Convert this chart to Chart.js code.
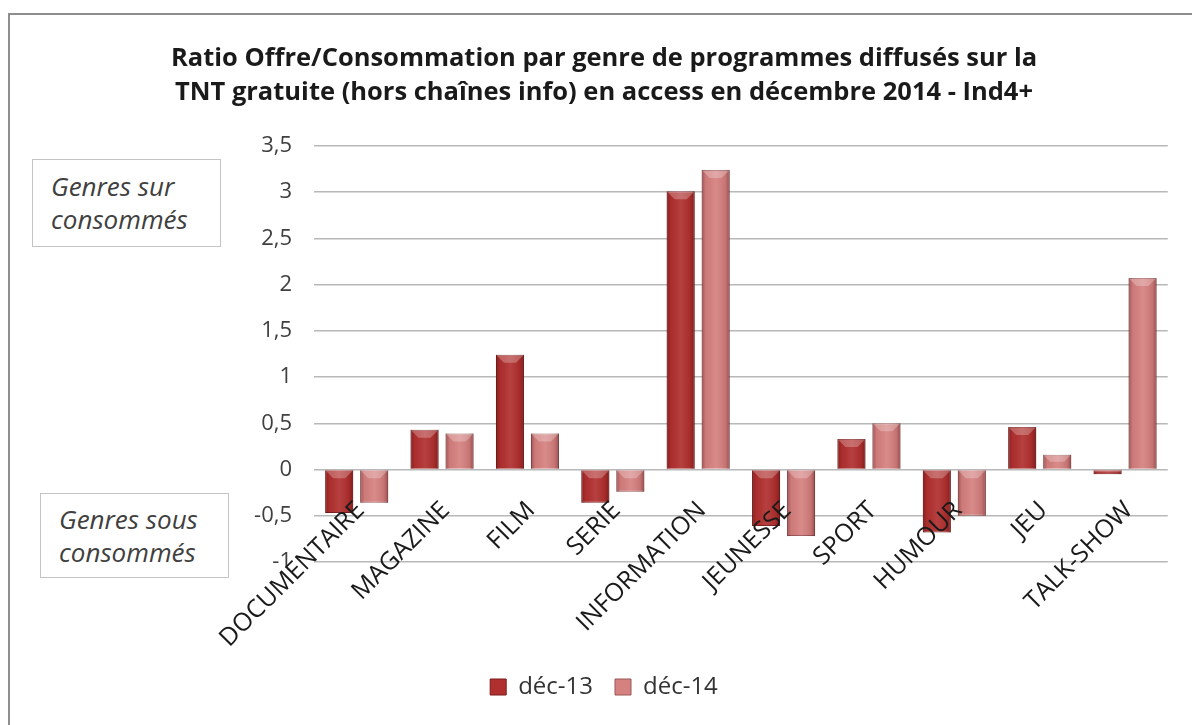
<!DOCTYPE html>
<html lang="fr">
<head>
<meta charset="utf-8">
<title>Ratio Offre/Consommation</title>
<script src="https://cdn.jsdelivr.net/npm/chart.js@4.4.1/dist/chart.umd.min.js"></script>
<style>
  html, body { margin: 0; padding: 0; background: #fff; }
  #wrap { position: relative; width: 1192px; height: 725px; overflow: hidden; }
  #cadre { position: absolute; left: 8px; top: 13px; width: 1220px; height: 740px; border: 2px solid #8e8e8e; box-sizing: border-box; }
  #graph { position: absolute; left: 0; top: 0; }
  .note { position: absolute; border: 1.5px solid #c4c4c4; box-sizing: border-box; background: #fff;
          font-family: "Open Sans", sans-serif; font-style: italic; font-size: 26px; color: #404040;
          line-height: 33px; text-align: left; padding-left: 18px; }
</style>
</head>
<body>
<div id="wrap">
  <div id="cadre"></div>
  <canvas id="graph" width="1192" height="725"></canvas>
  <div class="note" style="left:32px; top:159px; width:189px; height:88px; padding-top:10px;">Genres sur<br>consommés</div>
  <div class="note" style="left:40px; top:493px; width:189px; height:85px; padding-top:9px;">Genres sous<br>consommés</div>
</div>
<script>
// genres et valeurs
const genres = ['DOCUMENTAIRE', 'MAGAZINE', 'FILM', 'SERIE', 'INFORMATION', 'JEUNESSE', 'SPORT', 'HUMOUR', 'JEU', 'TALK-SHOW'];
const dec13 = [-0.47, 0.43, 1.24, -0.36, 3.01, -0.61, 0.33, -0.68, 0.46, -0.05];
const dec14 = [-0.36, 0.39, 0.39, -0.24, 3.24, -0.72, 0.50, -0.50, 0.16, 2.07];
const seriesNames = ['déc-13', 'déc-14'];

const titre = ['Ratio Offre/Consommation par genre de programmes diffusés sur la',
               'TNT gratuite (hors chaînes info) en access en décembre 2014 - Ind4+'];

// petit effet de relief sur les barres
const relief = {
    id: 'relief',
    afterDatasetsDraw(chart) {
        const ctx = chart.ctx;
        chart.data.datasets.forEach((ds, i) => {
            chart.getDatasetMeta(i).data.forEach(bar => {
                const left = bar.x - bar.width / 2;
                const top = Math.min(bar.y, bar.base);
                const h = Math.abs(bar.base - bar.y);
                const g = ctx.createLinearGradient(left, 0, left + bar.width, 0);
                g.addColorStop(0, 'rgba(60,0,0,0.35)');
                g.addColorStop(0.15, 'rgba(60,0,0,0.05)');
                g.addColorStop(0.5, 'rgba(255,255,255,0.08)');
                g.addColorStop(0.85, 'rgba(60,0,0,0.1)');
                g.addColorStop(1, 'rgba(60,0,0,0.4)');
                ctx.save();
                ctx.fillStyle = g;
                ctx.fillRect(left, top, bar.width, h);
                // biseau du haut
                const b = Math.min(8, h / 2);
                ctx.fillStyle = 'rgba(255,255,255,0.25)';
                ctx.beginPath();
                ctx.moveTo(left, top);
                ctx.lineTo(left + bar.width, top);
                ctx.lineTo(left + bar.width - b, top + b);
                ctx.lineTo(left + b, top + b);
                ctx.closePath();
                ctx.fill();
                ctx.restore();
            });
        });
    }
};

new Chart(document.getElementById('graph'), {
    type: 'bar',
    data: {
        labels: genres,
        datasets: [
            {
                label: seriesNames[0],
                data: dec13,
                backgroundColor: '#b0302f',
                borderColor: '#7a1a1a',
                borderWidth: 1,
                categoryPercentage: 0.82,
                barPercentage: 0.8
            },
            {
                label: seriesNames[1],
                data: dec14,
                backgroundColor: '#d58180',
                borderColor: '#9c5656',
                borderWidth: 1,
                categoryPercentage: 0.82,
                barPercentage: 0.8
            }
        ]
    },
    options: {
        responsive: false,
        animation: false,
        layout: { padding: { left: 30, right: 14, top: 0, bottom: 16 } },
        plugins: {
            title: {
                display: true,
                text: titre,
                color: '#1a1a1a',
                font: { family: 'Open Sans', size: 25.5, weight: 'bold', lineHeight: 1.33 },
                padding: { top: 42, bottom: 36 }
            },
            legend: {
                position: 'bottom',
                labels: {
                    boxWidth: 16,
                    boxHeight: 16,
                    color: '#333',
                    font: { family: 'Open Sans', size: 24 },
                    padding: 22
                }
            },
            tooltip: { enabled: false }
        },
        scales: {
            x: {
                grid: { display: false, drawTicks: false },
                border: { display: false },
                ticks: {
                    z: 1,
                    color: '#1a1a1a',
                    font: { family: 'Open Sans', size: 25 },
                    minRotation: 45,
                    maxRotation: 45,
                    mirror: true,
                    padding: 45,
                    labelOffset: 25,
                    autoSkip: false
                },
                afterFit(scale) { scale.height = 91; }
            },
            y: {
                min: -1,
                max: 3.5,
                grid: { color: '#b8b8b8', lineWidth: 1.5, drawTicks: false },
                border: { display: false },
                ticks: {
                    stepSize: 0.5,
                    color: '#404040',
                    font: { family: 'Open Sans', size: 22 },
                    padding: 22,
                    callback: v => String(v).replace('.', ',')
                },
                afterFit(scale) { scale.width = 284; }
            }
        }
    },
    plugins: [relief]
});
</script>
</body>
</html>
